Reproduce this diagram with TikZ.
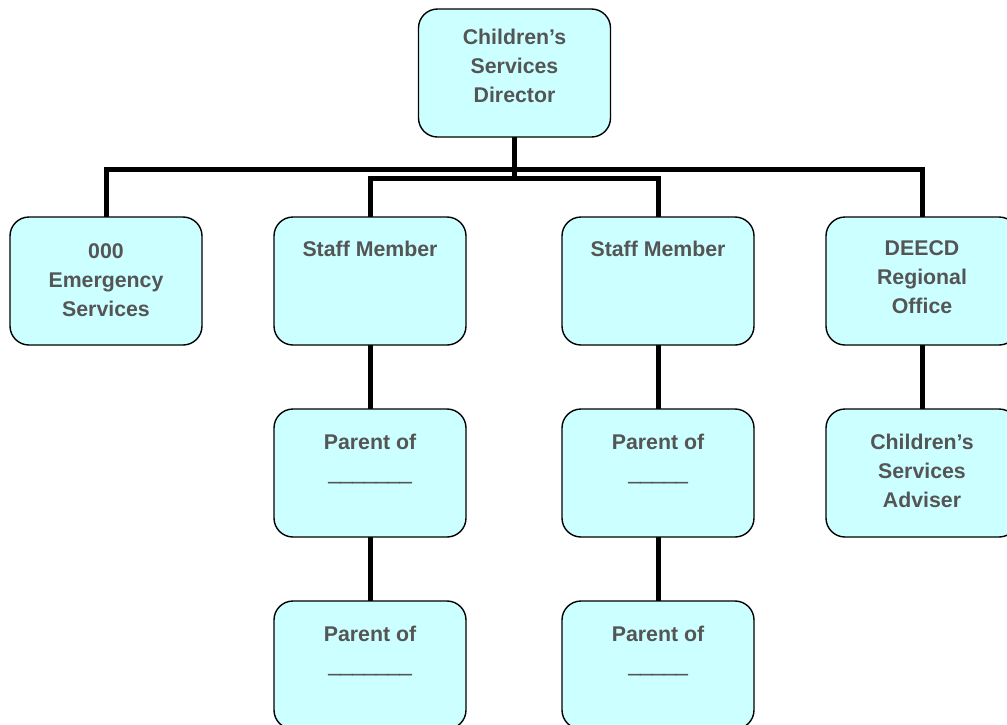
\documentclass[tikz,border=0pt]{standalone}
\usepackage{fontspec}
\setmainfont{Liberation Sans}
\newfontfamily\blankfont[FakeBold=4]{Liberation Sans Bold}
\begin{document}
\definecolor{boxfill}{RGB}{204,255,255}
\definecolor{txtgray}{RGB}{85,85,85}
\newcommand{\blankline}[1]{{\blankfont\raisebox{-2pt}{#1}}}
\begin{tikzpicture}[x=1pt, y=-1pt,
  box/.style={draw=black, line width=1.4pt, fill=boxfill, rounded corners=19pt,
    minimum width=192pt, minimum height=128pt, inner sep=0pt},
  txt/.style={anchor=north, inner sep=0pt, align=center, text=txtgray,
    font=\fontsize{21.3}{29}\selectfont\bfseries},
  conn/.style={line width=5pt, draw=black}]
\useasboundingbox (0,0) rectangle (1007,724);
\clip (0,0) rectangle (1007,724);

% bus rails
\coordinate (outer) at (514,169);
\coordinate (inner) at (514,178);

% connectors (drawn first so the boxes sit on top)
\coordinate (dirb) at (514,137);
\coordinate (emgt) at (106,217);
\coordinate (s1t) at (370,217);
\coordinate (s2t) at (658,217);
\coordinate (deet) at (922,217);
\draw[conn] (dirb) -- (dirb |- inner);
\draw[conn] (emgt) |- (outer) -| (deet);
\draw[conn] (s1t) |- (inner) -| (s2t);
\draw[conn] (370,345) -- (370,601);
\draw[conn] (658,345) -- (658,601);
\draw[conn] (922,345) -- (922,409);

% boxes
\node[box] (dir) at (514.5,73) {};
\node[box] (emg) at (106,281) {};
\node[box] (s1) at (370,281) {};
\node[box] (s2) at (658,281) {};
\node[box] (dee) at (922,281) {};
\node[box] (p1) at (370,473) {};
\node[box] (p2) at (658,473) {};
\node[box] (adv) at (922,473) {};
\node[box] (p3) at (370,665) {};
\node[box] (p4) at (658,665) {};

% texts
\node[txt] (dir-t) at ([yshift=-20.5pt]dir.north) {Children’s\\Services\\Director};
\node[txt] (emg-t) at ([yshift=-27.5pt]emg.north) {000\\Emergency\\Services};
\node[txt] (s1-t) at ([yshift=-24.5pt]s1.north) {Staff Member};
\node[txt] (s2-t) at ([yshift=-24.5pt]s2.north) {Staff Member};
\node[txt] (dee-t) at ([yshift=-24.5pt]dee.north) {DEECD\\Regional\\Office};
\node[txt] (p1-t) at ([yshift=-25.5pt]p1.north) {Parent of\\\blankline{\_\_\_\_\_\_\_}};
\node[txt] (p2-t) at ([yshift=-25.5pt]p2.north) {Parent of\\\blankline{\_\_\_\_\_}};
\node[txt] (adv-t) at ([yshift=-25.5pt]adv.north) {Children’s\\Services\\Adviser};
\node[txt] (p3-t) at ([yshift=-25.5pt]p3.north) {Parent of\\\blankline{\_\_\_\_\_\_\_}};
\node[txt] (p4-t) at ([yshift=-25.5pt]p4.north) {Parent of\\\blankline{\_\_\_\_\_}};
\end{tikzpicture}
\end{document}
